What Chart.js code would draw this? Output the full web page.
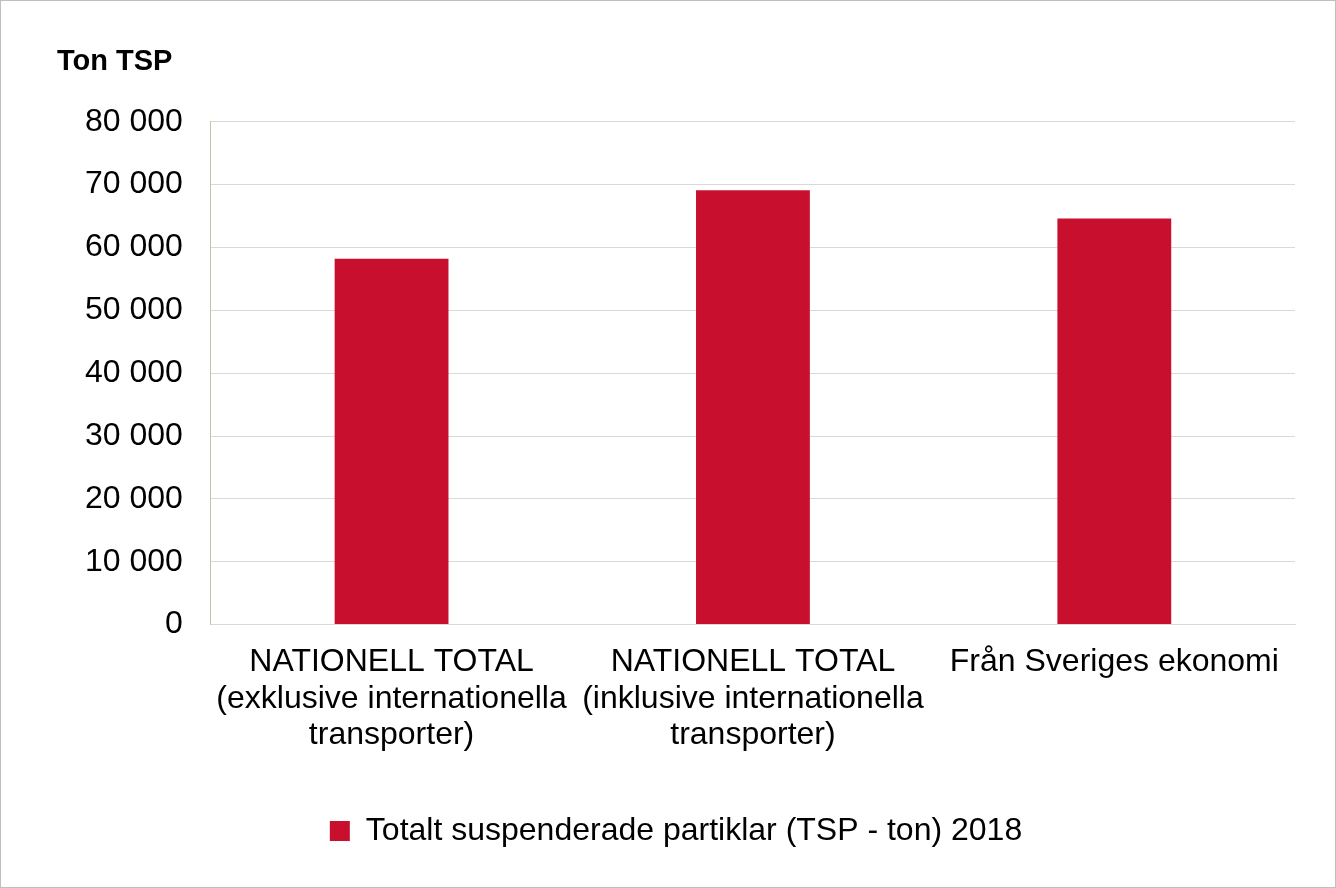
<!DOCTYPE html>
<html><head><meta charset="utf-8">
<script src="https://cdn.jsdelivr.net/npm/chart.js@4/dist/chart.umd.min.js"></script>
<style>html,body{margin:0;padding:0;background:#fff}#w{width:1334px;height:886px;border:1px solid #bfbfbf;position:relative}</style>
</head><body><div id="w"><canvas id="c"></canvas></div>
<script>
const categories=[["NATIONELL TOTAL","(exklusive internationella","transporter)"],["NATIONELL TOTAL","(inklusive internationella","transporter)"],"Från Sveriges ekonomi"];
const seriesName="Totalt suspenderade partiklar (TSP - ton) 2018";
const values=[58200,69100,64600];
const yTitle="Ton TSP";
const F="'Liberation Sans', Arial, sans-serif";
new Chart(document.getElementById('c'),{type:'bar',
data:{labels:categories,datasets:[{label:seriesName,data:values,backgroundColor:'#c8102e',categoryPercentage:1,barPercentage:0.315}]},
options:{responsive:true,maintainAspectRatio:false,animation:false,
layout:{padding:{left:56,right:40,top:44,bottom:30}},
plugins:{title:{display:true,text:yTitle,align:'start',color:'#000',font:{family:F,size:29,weight:'bold'},padding:{top:0,bottom:42}},
legend:{position:'bottom',labels:{color:'#000',font:{family:F,size:32},boxWidth:20,boxHeight:20,padding:50}},tooltip:{enabled:false}},
scales:{x:{grid:{display:false},border:{color:'#d9d9d9'},ticks:{color:'#000',font:{family:F,size:32,lineHeight:1.13},maxRotation:0,autoSkip:false,padding:12}},
y:{min:0,max:80000,ticks:{stepSize:10000,color:'#000',font:{family:F,size:32},padding:28,callback:v=>v===0?'0':String(v).replace(/\B(?=(\d{3})+(?!\d))/g,' ')},grid:{color:'#d9d9d9',drawTicks:false},border:{color:'#c9c3a6'}}}}});
</script></body></html>
